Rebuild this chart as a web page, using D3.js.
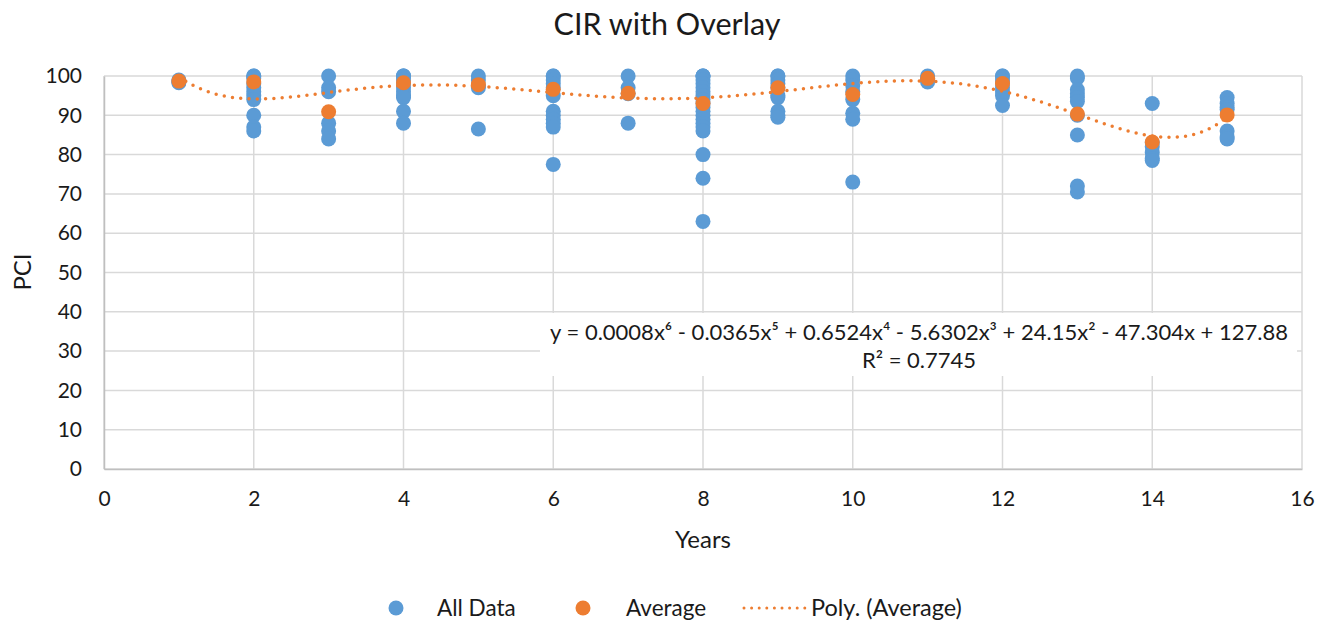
<!DOCTYPE html>
<html><head><meta charset="utf-8">
<script src="https://cdn.jsdelivr.net/npm/d3@7"></script>
<style>body{margin:0;background:#fff}svg{display:block;font-family:Lato,"Open Sans",sans-serif}</style>
</head><body>
<svg id="c" width="1334" height="625"></svg>
<script>
// ---- data ----
const years = [1,2,3,4,5,6,7,8,9,10,11,12,13,14,15];
const allData = [
  [99, 98.5, 98.3],
  [100,100,99.5,98,97,96,95,94,90,87,86],
  [100,97,96,88,86,84],
  [100,100,100,99,98,97,96,95,94.5,91,88],
  [100,99,97.5,97,86.5],
  [100,100,99,98,97,95,91,90,89,88,87,77.5],
  [100,97,95.5,88],
  [100,100,100,99,98,97,96,95,94,93,92,91,90,89,88,87,86,80,74,63],
  [100,100,99,98,97,95,94.5,91,90,89.5],
  [100,99,97.5,96,94,90.5,89,73],
  [100,99.5,99,98.5],
  [100,100,99,98,97,96,95,92.5],
  [100,99.5,96.5,95.5,94.5,93.5,90,85,72,70.5],
  [93,83,82,80.5,79,78.5],
  [94.5,93,92,91.5,86,84.5,84]
];
const average = [98.7,98.5,90.9,98.3,97.8,96.6,95.6,93.0,97.0,95.3,99.4,98.1,90.3,83.2,90.1];
const xTicks = [0,2,4,6,8,10,12,14,16];
const yTicks = [0,10,20,30,40,50,60,70,80,90,100];
const equationText = ["y = 0.0008x\u2076 - 0.0365x\u2075 + 0.6524x\u2074 - 5.6302x\u00B3 + 24.15x\u00B2 - 47.304x + 127.88", "R\u00B2 = 0.7745"];
const legendLabels = ["All Data","Average","Poly. (Average)"];

const BLUE = "#5B9BD5", ORANGE = "#ED7D31", GRID = "#d9d9d9", TXT = "#1a1a1a";
const svg = d3.select("#c");
const L = 104, R = 1302, T = 76, B = 469;
const x = d3.scaleLinear().domain([0,16]).range([L,R]);
const y = d3.scaleLinear().domain([0,100]).range([B,T]);

// gridlines
svg.append("g").selectAll("line").data(yTicks).join("line")
  .attr("x1",L).attr("x2",R).attr("y1",d=>y(d)).attr("y2",d=>y(d))
  .attr("stroke",GRID).attr("stroke-width",1.5);
svg.append("g").selectAll("line").data(xTicks).join("line")
  .attr("y1",T).attr("y2",B).attr("x1",d=>x(d)).attr("x2",d=>x(d))
  .attr("stroke",GRID).attr("stroke-width",1.5);

// axes
const ya = svg.append("g").attr("transform",`translate(${L},0)`)
  .call(d3.axisLeft(y).tickValues(yTicks).tickSize(0).tickPadding(22));
const xa = svg.append("g").attr("transform",`translate(0,${B})`)
  .call(d3.axisBottom(x).tickValues(xTicks).tickSize(0).tickPadding(22));
[ya,xa].forEach(a=>{a.select(".domain").attr("stroke","#bfbfbf").attr("stroke-width",1.5);
  a.selectAll("text").attr("font-size",21).attr("fill",TXT).attr("font-family","Lato");});

// polynomial fit (degree 6) to averages, centered/scaled
function polyfit(xs, ys, deg){
  const n = deg+1;
  const A = Array.from({length:n},()=>new Array(n+1).fill(0));
  xs.forEach((xv,i)=>{
    const p=[]; for(let k=0;k<n;k++) p.push(Math.pow(xv,k));
    for(let r=0;r<n;r++){ for(let c=0;c<n;c++) A[r][c]+=p[r]*p[c]; A[r][n]+=p[r]*ys[i]; }
  });
  for(let i=0;i<n;i++){
    let m=i; for(let r=i+1;r<n;r++) if(Math.abs(A[r][i])>Math.abs(A[m][i])) m=r;
    [A[i],A[m]]=[A[m],A[i]];
    for(let r=0;r<n;r++){ if(r===i) continue; const f=A[r][i]/A[i][i]; for(let c=i;c<=n;c++) A[r][c]-=f*A[i][c]; }
  }
  return A.map((row,i)=>row[n]/row[i]);
}
const tx = v => (v-8)/7;
const coef = polyfit(years.map(tx), average, 6);
const pf = v => coef.reduce((s,c,k)=>s+c*Math.pow(tx(v),k),0);
const curvePts = d3.range(1,15.001,0.05).map(v=>[v,pf(v)]);

// points
const flat = [];
years.forEach((yr,i)=>allData[i].forEach(v=>flat.push([yr,v])));
svg.append("g").selectAll("circle").data(flat).join("circle")
  .attr("cx",d=>x(d[0])).attr("cy",d=>y(d[1])).attr("r",7.5).attr("fill",BLUE);
svg.append("path").datum(curvePts)
  .attr("d",d3.line().x(d=>x(d[0])).y(d=>y(d[1])).curve(d3.curveLinear))
  .attr("fill","none").attr("stroke",ORANGE).attr("stroke-width",3.5)
  .attr("stroke-dasharray","0 8.3").attr("stroke-linecap","round");
svg.append("g").selectAll("circle").data(years).join("circle")
  .attr("cx",d=>x(d)).attr("cy",(d,i)=>y(average[i])).attr("r",7.5).attr("fill",ORANGE);

// equation label box
svg.append("rect").attr("x",540).attr("y",313).attr("width",757).attr("height",63).attr("fill","#fff");
svg.append("text").attr("x",919).attr("y",340).attr("text-anchor","middle").attr("font-size",22).attr("fill",TXT).text(equationText[0]);
svg.append("text").attr("x",919).attr("y",368).attr("text-anchor","middle").attr("font-size",22).attr("fill",TXT).text(equationText[1]);

// titles
svg.append("text").attr("x",667).attr("y",35).attr("text-anchor","middle").attr("font-size",30.5).attr("fill",TXT).text("CIR with Overlay");
svg.append("text").attr("x",703).attr("y",548).attr("text-anchor","middle").attr("font-size",24).attr("fill",TXT).text("Years");
svg.append("text").attr("transform","translate(31,272) rotate(-90)").attr("text-anchor","middle").attr("font-size",24).attr("fill",TXT).text("PCI");

// legend
const ly = 608;
svg.append("circle").attr("cx",396).attr("cy",ly).attr("r",7.5).attr("fill",BLUE);
svg.append("text").attr("x",437).attr("y",ly+8).attr("font-size",22.5).attr("fill",TXT).text(legendLabels[0]);
svg.append("circle").attr("cx",583).attr("cy",ly).attr("r",7.5).attr("fill",ORANGE);
svg.append("text").attr("x",626).attr("y",ly+8).attr("font-size",22.5).attr("fill",TXT).text(legendLabels[1]);
svg.append("line").attr("x1",744).attr("x2",805).attr("y1",ly).attr("y2",ly)
  .attr("stroke",ORANGE).attr("stroke-width",3).attr("stroke-dasharray","0 7.6").attr("stroke-linecap","round");
svg.append("text").attr("x",811).attr("y",ly+8).attr("font-size",23.5).attr("fill",TXT).text(legendLabels[2]);
</script>
</body></html>
